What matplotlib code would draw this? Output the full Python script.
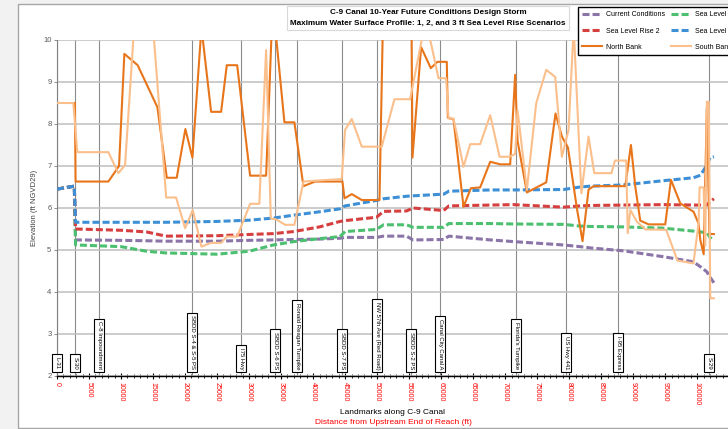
import numpy as np
import matplotlib
matplotlib.use("Agg")
import matplotlib.pyplot as plt
from matplotlib.patches import Rectangle
from matplotlib.ticker import MultipleLocator

plt.rcParams['font.family'] = ['Liberation Sans', 'DejaVu Sans']

# profile stations (ft from upstream end) for the water surface profiles
stations = [0, 2700, 2900, 10000, 14000, 17000, 25000, 30000, 33800, 37000,
            41000, 44200, 45000, 49900, 51000, 54600, 55600, 60400, 61200,
            67700, 71300, 79100, 81700, 83300, 88500, 94700, 99400, 100500,
            101500, 102000, 102600]

current = [6.45, 6.52, 5.24, 5.23, 5.22, 5.21, 5.21, 5.23, 5.24, 5.25,
           5.26, 5.28, 5.30, 5.30, 5.33, 5.33, 5.24, 5.25, 5.33,
           5.24, 5.20, 5.12, 5.08, 5.05, 4.98, 4.84, 4.72, 4.60,
           4.48, 4.35, 4.22]
slr1 = [6.45, 6.52, 5.12, 5.08, 4.97, 4.93, 4.90, 4.97, 5.12, 5.20,
        5.27, 5.32, 5.44, 5.49, 5.60, 5.60, 5.54, 5.54, 5.63,
        5.63, 5.62, 5.61, 5.57, 5.56, 5.55, 5.52, 5.45, 5.43,
        5.41, 5.30, 5.22]
slr2 = [6.45, 6.52, 5.50, 5.47, 5.43, 5.33, 5.34, 5.37, 5.39, 5.44,
        5.55, 5.68, 5.70, 5.78, 5.92, 5.93, 6.00, 5.94, 6.05,
        6.07, 6.08, 6.02, 6.05, 6.06, 6.07, 6.08, 6.07, 6.07,
        6.07, 6.15, 6.22]
slr3 = [6.45, 6.52, 5.66, 5.66, 5.66, 5.66, 5.68, 5.71, 5.76, 5.83,
        5.91, 5.98, 6.05, 6.18, 6.22, 6.28, 6.29, 6.33, 6.40,
        6.43, 6.43, 6.44, 6.50, 6.52, 6.55, 6.65, 6.72, 6.78,
        7.02, 7.20, 7.22]

# bank elevations
north_x = [2800, 2900, 8020, 9690, 10520, 12600, 15680, 17150, 18700, 20050,
           21150, 22560, 24070, 25630, 26520, 28140, 30160, 32660, 33700,
           35520, 37080, 38490, 40310, 44580, 44900, 46040, 47600, 50370,
           51100, 55300, 55520, 56870, 58380, 59420, 60880, 61040, 61930,
           63490, 64640, 66090, 67660, 69220, 70780, 71560, 71930, 73390,
           76410, 77860, 78860, 79800, 81200, 82080, 83020, 83810, 88760,
           89640, 90320, 91090, 92400, 95000, 95890, 97350, 99430, 100200,
           100470, 101000, 101500, 101900, 102600]
north_y = [8.50, 6.63, 6.63, 7.00, 9.67, 9.40, 8.40, 6.72, 6.72, 7.88,
           7.20, 10.30, 8.29, 8.29, 9.40, 9.40, 6.77, 6.77, 10.90,
           8.04, 8.04, 6.52, 6.63, 6.63, 6.23, 6.33, 6.19, 6.19,
           12.00, 12.00, 7.20, 9.83, 9.33, 9.48, 9.48, 8.15, 8.11,
           6.03, 6.47, 6.49, 7.10, 7.04, 7.04, 9.17, 7.60, 6.37,
           6.61, 8.25, 7.70, 7.44, 5.99, 5.21, 6.44, 6.52, 6.52,
           7.50, 6.51, 5.70, 5.61, 5.61, 6.67, 6.11, 5.91, 5.63,
           5.24, 4.90, 8.40, 5.38, 5.38]

south_x = [0, 2550, 3170, 8020, 9580, 10630, 12300, 14700, 17050, 18600,
           20010, 21200, 22560, 24070, 25630, 26520, 28140, 30170, 31600,
           32660, 33390, 34220, 35630, 37080, 38490, 44470, 44990, 46040,
           47600, 50720, 52700, 55150, 57600, 59580, 60780, 61150, 61930,
           63490, 64530, 66090, 67660, 69120, 70700, 71560, 71930, 73390,
           74840, 76410, 77810, 78860, 79900, 80700, 81900, 83020, 83910,
           86600, 87150, 88900, 89140, 89560, 90600, 91900, 95150, 96900,
           99400, 100200, 100360, 100990, 101250, 101500, 101800, 102030,
           102600]
south_y = [8.50, 8.50, 7.33, 7.33, 6.83, 7.02, 10.90, 10.90, 6.25, 6.25,
           5.52, 5.95, 5.08, 5.17, 5.17, 5.32, 5.32, 6.10, 6.10,
           9.76, 5.75, 5.73, 5.60, 5.60, 6.63, 6.69, 7.86, 8.12,
           7.46, 7.46, 8.59, 8.59, 10.50, 9.09, 9.09, 8.13, 8.13,
           6.98, 7.52, 7.52, 8.21, 7.22, 7.22, 7.29, 8.33, 6.43,
           8.49, 9.29, 9.12, 7.22, 7.86, 10.30, 6.35, 7.70, 6.83,
           6.83, 7.13, 7.13, 5.40, 5.95, 5.67, 5.49, 5.48, 4.75,
           4.68, 5.63, 6.49, 6.49, 5.10, 8.53, 8.53, 3.85,
           3.85]

landmarks = ["L-31", "S-30", "C-8 Impoundment", "SBDD S-4 & S-5 PS", "I75 Hwy",
             "SBDD S-6 PS", "Ronald Reagan Turnpike", "SBDD S-7 PS",
             "NW 57th Ave (Red Road)", "SBDD S-2 PS", "Canal City Canal A",
             "Florida's Turnpike", "US Hwy 441", "I-95 Express", "S-29"]
landmark_x = [0, 2800, 6560, 21100, 28750, 34060, 37500, 44530, 50000, 55300,
              59840, 71700, 79530, 87650, 101880]

fig = plt.figure(figsize=(7.28, 4.29), dpi=100)
fig.patch.set_facecolor('#f2f2f2')
fig.patches.append(Rectangle((18 / 728, 1 / 429), 1, 424 / 429, transform=fig.transFigure,
                             facecolor='white', edgecolor='#a6a6a6', lw=1, zorder=-10))

ax = fig.add_axes([57 / 728, 53 / 429, 671 / 728, 336 / 429])
ax.set_zorder(1)
ax.set_facecolor('none')
ax.set_xlim(0, 104800)
ax.set_ylim(2, 10)

ax.yaxis.set_major_locator(MultipleLocator(1))
ax.grid(axis='y', color='#bfbfbf', lw=1.1, zorder=0)
ax.xaxis.set_major_locator(MultipleLocator(5000))
ax.xaxis.set_minor_locator(MultipleLocator(1000))
ax.tick_params(axis='x', which='major', direction='inout', length=4, width=0.8,
               labelsize=5, labelcolor='red', labelrotation=270, pad=2)
ax.tick_params(axis='x', which='minor', direction='inout', length=2.5, width=0.6)
ax.tick_params(axis='y', length=2, width=0.6, labelsize=5.5, labelcolor='#595959',
               color='#7f7f7f', pad=2)
for lab in ax.get_xticklabels():
    lab.set_va('top')
ax.spines['top'].set_visible(False)
ax.spines['right'].set_visible(False)
ax.spines['left'].set_color('#7f7f7f')
ax.spines['bottom'].set_color('black')
ax.spines['bottom'].set_linewidth(1)

for x, name in zip(landmark_x, landmarks):
    ax.axvline(x, color='#8c8c8c', lw=0.8, zorder=1)
    ax.text(x, 2.16, name, rotation=270, ha='center', va='bottom', fontsize=4.3,
            zorder=6, bbox=dict(boxstyle='square,pad=0.45', fc='white', ec='black', lw=0.8))

dash = (0, (2.3, 1.0))
h_cur, = ax.plot(stations, current, color='#8a74a8', lw=2.2, ls=dash, label='Current Conditions', zorder=3)
h_s1, = ax.plot(stations, slr1, color='#4cc070', lw=2.2, ls=dash, label='Sea Level Rise 1', zorder=3)
h_s2, = ax.plot(stations, slr2, color='#d63f3f', lw=2.2, ls=dash, label='Sea Level Rise 2', zorder=3)
h_s3, = ax.plot(stations, slr3, color='#3d8fd6', lw=2.2, ls=dash, label='Sea Level Rise 3', zorder=3)
h_n, = ax.plot(north_x, north_y, color='#e8751a', lw=1.5, label='North Bank', zorder=4)
h_s, = ax.plot(south_x, south_y, color='#fbbf8c', lw=1.5, label='South Bank', zorder=4)

# legend filled row by row: (current, slr1), (slr2, slr3), (north, south)
handles = [h_cur, h_s2, h_n, h_s1, h_s3, h_s]
fig.legend(handles=handles, labels=[h.get_label() for h in handles],
           loc='upper left', bbox_to_anchor=(578 / 728, 422 / 429), ncol=2, fontsize=5,
           frameon=True, fancybox=False, edgecolor='black', framealpha=1,
           handlelength=2.8, handletextpad=0.6, labelspacing=1.35, columnspacing=0.9,
           borderpad=0.6, borderaxespad=0)

fig.text(428 / 728, 411 / 429,
         "C-9 Canal 10-Year Future Conditions Design Storm\n"
         "Maximum Water Surface Profile: 1, 2, and 3 ft Sea Level Rise Scenarios",
         ha='center', va='center', fontsize=5.9, fontweight='bold', linespacing=1.75,
         bbox=dict(boxstyle='square,pad=0.35', fc='white', ec='#d9d9d9', lw=0.8))

fig.text(35 / 728, 221 / 429, "Elevation (ft NGVD29)", rotation=90, ha='center', va='center',
         fontsize=5.5, color='#404040')
fig.text(393 / 728, 17 / 429, "Landmarks along C-9 Canal", ha='center', va='center',
         fontsize=6, color='black')
fig.text(393 / 728, 7 / 429, "Distance from Upstream End of Reach (ft)", ha='center',
         va='center', fontsize=6, color='red')

fig.savefig('out.png', dpi=100, facecolor=fig.get_facecolor())
